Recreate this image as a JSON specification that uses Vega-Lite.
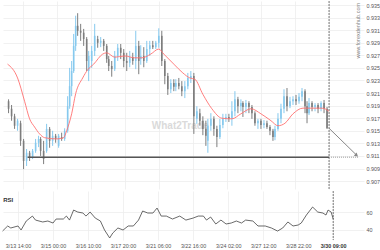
{
  "$schema": "https://vega.github.io/schema/vega-lite/v6.json",
  "padding": 0,
  "spacing": 0,
  "background": "white",
  "config": {
    "font": "Liberation Sans",
    "view": {"stroke": null},
    "axis": {"labelFont": "Liberation Sans", "labelFontSize": 5.4, "labelColor": "#555555", "gridColor": "#eeeeee", "gridWidth": 0.8, "domain": false, "ticks": false, "title": null, "labelOverlap": false}
  },
  "datasets": {
    "candles": [
      {"h": -14, "o": 0.9197, "c": 0.9185, "hi": 0.9200, "lo": 0.9178},
      {"h": -11, "o": 0.9185, "c": 0.9173, "hi": 0.9191, "lo": 0.9166},
      {"h": -8, "o": 0.9173, "c": 0.9158, "hi": 0.9177, "lo": 0.9153},
      {"h": -5, "o": 0.9158, "c": 0.9166, "hi": 0.9169, "lo": 0.9150},
      {"h": -2, "o": 0.9162, "c": 0.9134, "hi": 0.9166, "lo": 0.9126},
      {"h": 1, "o": 0.9134, "c": 0.9102, "hi": 0.9137, "lo": 0.9089},
      {"h": 4, "o": 0.9102, "c": 0.9115, "hi": 0.9121, "lo": 0.9094},
      {"h": 7, "o": 0.9115, "c": 0.9108, "hi": 0.9118, "lo": 0.9102},
      {"h": 10, "o": 0.9108, "c": 0.9118, "hi": 0.9121, "lo": 0.9105},
      {"h": 13, "o": 0.9118, "c": 0.9131, "hi": 0.9137, "lo": 0.9115},
      {"h": 16, "o": 0.9131, "c": 0.9137, "hi": 0.9142, "lo": 0.9124},
      {"h": 18, "o": 0.9137, "c": 0.9118, "hi": 0.9140, "lo": 0.9110},
      {"h": 21, "o": 0.9118, "c": 0.9105, "hi": 0.9134, "lo": 0.9097},
      {"h": 24, "o": 0.9118, "c": 0.9153, "hi": 0.9161, "lo": 0.9115},
      {"h": 27, "o": 0.9153, "c": 0.9134, "hi": 0.9156, "lo": 0.9123},
      {"h": 30, "o": 0.9134, "c": 0.9142, "hi": 0.9150, "lo": 0.9126},
      {"h": 33, "o": 0.9142, "c": 0.9137, "hi": 0.9145, "lo": 0.9131},
      {"h": 36, "o": 0.9126, "c": 0.9142, "hi": 0.9145, "lo": 0.9123},
      {"h": 39, "o": 0.9140, "c": 0.9137, "hi": 0.9147, "lo": 0.9134},
      {"h": 42, "o": 0.9137, "c": 0.9150, "hi": 0.9154, "lo": 0.9134},
      {"h": 45, "o": 0.9150, "c": 0.9189, "hi": 0.9205, "lo": 0.9147},
      {"h": 47, "o": 0.9189, "c": 0.9221, "hi": 0.9250, "lo": 0.9185},
      {"h": 49, "o": 0.9221, "c": 0.9245, "hi": 0.9261, "lo": 0.9205},
      {"h": 51, "o": 0.9245, "c": 0.9285, "hi": 0.9304, "lo": 0.9242},
      {"h": 53, "o": 0.9285, "c": 0.9317, "hi": 0.9333, "lo": 0.9277},
      {"h": 55, "o": 0.9317, "c": 0.9309, "hi": 0.9337, "lo": 0.9301},
      {"h": 58, "o": 0.9309, "c": 0.9306, "hi": 0.9320, "lo": 0.9293},
      {"h": 61, "o": 0.9306, "c": 0.9296, "hi": 0.9312, "lo": 0.9285},
      {"h": 64, "o": 0.9296, "c": 0.9261, "hi": 0.9299, "lo": 0.9245},
      {"h": 66, "o": 0.9245, "c": 0.9269, "hi": 0.9277, "lo": 0.9229},
      {"h": 69, "o": 0.9261, "c": 0.9277, "hi": 0.9285, "lo": 0.9250},
      {"h": 72, "o": 0.9277, "c": 0.9301, "hi": 0.9320, "lo": 0.9269},
      {"h": 75, "o": 0.9296, "c": 0.9290, "hi": 0.9301, "lo": 0.9282},
      {"h": 78, "o": 0.9290, "c": 0.9293, "hi": 0.9299, "lo": 0.9283},
      {"h": 81, "o": 0.9293, "c": 0.9285, "hi": 0.9296, "lo": 0.9277},
      {"h": 84, "o": 0.9285, "c": 0.9264, "hi": 0.9288, "lo": 0.9258},
      {"h": 86, "o": 0.9264, "c": 0.9253, "hi": 0.9269, "lo": 0.9245},
      {"h": 89, "o": 0.9253, "c": 0.9248, "hi": 0.9261, "lo": 0.9236},
      {"h": 92, "o": 0.9248, "c": 0.9269, "hi": 0.9277, "lo": 0.9245},
      {"h": 95, "o": 0.9269, "c": 0.9282, "hi": 0.9288, "lo": 0.9261},
      {"h": 98, "o": 0.9282, "c": 0.9274, "hi": 0.9288, "lo": 0.9264},
      {"h": 101, "o": 0.9274, "c": 0.9261, "hi": 0.9280, "lo": 0.9251},
      {"h": 104, "o": 0.9261, "c": 0.9258, "hi": 0.9274, "lo": 0.9245},
      {"h": 107, "o": 0.9258, "c": 0.9267, "hi": 0.9277, "lo": 0.9251},
      {"h": 110, "o": 0.9267, "c": 0.9261, "hi": 0.9274, "lo": 0.9255},
      {"h": 113, "o": 0.9261, "c": 0.9285, "hi": 0.9309, "lo": 0.9248},
      {"h": 116, "o": 0.9285, "c": 0.9261, "hi": 0.9293, "lo": 0.9240},
      {"h": 118, "o": 0.9264, "c": 0.9269, "hi": 0.9286, "lo": 0.9255},
      {"h": 121, "o": 0.9269, "c": 0.9261, "hi": 0.9283, "lo": 0.9251},
      {"h": 124, "o": 0.9261, "c": 0.9280, "hi": 0.9293, "lo": 0.9258},
      {"h": 127, "o": 0.9280, "c": 0.9286, "hi": 0.9293, "lo": 0.9269},
      {"h": 130, "o": 0.9286, "c": 0.9283, "hi": 0.9293, "lo": 0.9280},
      {"h": 133, "o": 0.9283, "c": 0.9290, "hi": 0.9293, "lo": 0.9280},
      {"h": 136, "o": 0.9290, "c": 0.9301, "hi": 0.9313, "lo": 0.9282},
      {"h": 139, "o": 0.9301, "c": 0.9261, "hi": 0.9309, "lo": 0.9253},
      {"h": 142, "o": 0.9261, "c": 0.9237, "hi": 0.9264, "lo": 0.9224},
      {"h": 145, "o": 0.9237, "c": 0.9216, "hi": 0.9242, "lo": 0.9207},
      {"h": 148, "o": 0.9216, "c": 0.9226, "hi": 0.9232, "lo": 0.9210},
      {"h": 151, "o": 0.9226, "c": 0.9220, "hi": 0.9232, "lo": 0.9213},
      {"h": 153, "o": 0.9220, "c": 0.9226, "hi": 0.9232, "lo": 0.9213},
      {"h": 156, "o": 0.9226, "c": 0.9221, "hi": 0.9234, "lo": 0.9216},
      {"h": 159, "o": 0.9221, "c": 0.9213, "hi": 0.9229, "lo": 0.9205},
      {"h": 162, "o": 0.9213, "c": 0.9221, "hi": 0.9229, "lo": 0.9202},
      {"h": 165, "o": 0.9221, "c": 0.9234, "hi": 0.9242, "lo": 0.9216},
      {"h": 168, "o": 0.9234, "c": 0.9237, "hi": 0.9245, "lo": 0.9226},
      {"h": 171, "o": 0.9237, "c": 0.9173, "hi": 0.9242, "lo": 0.9145},
      {"h": 174, "o": 0.9169, "c": 0.9181, "hi": 0.9189, "lo": 0.9161},
      {"h": 177, "o": 0.9178, "c": 0.9166, "hi": 0.9185, "lo": 0.9158},
      {"h": 180, "o": 0.9166, "c": 0.9153, "hi": 0.9173, "lo": 0.9143},
      {"h": 183, "o": 0.9153, "c": 0.9142, "hi": 0.9166, "lo": 0.9126},
      {"h": 185, "o": 0.9134, "c": 0.9158, "hi": 0.9169, "lo": 0.9115},
      {"h": 188, "o": 0.9158, "c": 0.9169, "hi": 0.9178, "lo": 0.9150},
      {"h": 191, "o": 0.9169, "c": 0.9153, "hi": 0.9173, "lo": 0.9142},
      {"h": 194, "o": 0.9153, "c": 0.9140, "hi": 0.9158, "lo": 0.9124},
      {"h": 197, "o": 0.9140, "c": 0.9159, "hi": 0.9169, "lo": 0.9137},
      {"h": 200, "o": 0.9159, "c": 0.9169, "hi": 0.9177, "lo": 0.9154},
      {"h": 203, "o": 0.9169, "c": 0.9172, "hi": 0.9177, "lo": 0.9164},
      {"h": 206, "o": 0.9172, "c": 0.9169, "hi": 0.9177, "lo": 0.9164},
      {"h": 209, "o": 0.9169, "c": 0.9181, "hi": 0.9197, "lo": 0.9158},
      {"h": 212, "o": 0.9181, "c": 0.9200, "hi": 0.9213, "lo": 0.9173},
      {"h": 215, "o": 0.9200, "c": 0.9189, "hi": 0.9204, "lo": 0.9178},
      {"h": 218, "o": 0.9189, "c": 0.9194, "hi": 0.9200, "lo": 0.9181},
      {"h": 220, "o": 0.9194, "c": 0.9188, "hi": 0.9197, "lo": 0.9172},
      {"h": 223, "o": 0.9188, "c": 0.9194, "hi": 0.9199, "lo": 0.9178},
      {"h": 226, "o": 0.9194, "c": 0.9188, "hi": 0.9197, "lo": 0.9178},
      {"h": 229, "o": 0.9188, "c": 0.9178, "hi": 0.9191, "lo": 0.9169},
      {"h": 232, "o": 0.9178, "c": 0.9162, "hi": 0.9181, "lo": 0.9158},
      {"h": 235, "o": 0.9162, "c": 0.9166, "hi": 0.9169, "lo": 0.9153},
      {"h": 238, "o": 0.9166, "c": 0.9159, "hi": 0.9169, "lo": 0.9153},
      {"h": 241, "o": 0.9159, "c": 0.9162, "hi": 0.9167, "lo": 0.9154},
      {"h": 244, "o": 0.9162, "c": 0.9156, "hi": 0.9166, "lo": 0.9153},
      {"h": 247, "o": 0.9156, "c": 0.9150, "hi": 0.9159, "lo": 0.9143},
      {"h": 250, "o": 0.9150, "c": 0.9140, "hi": 0.9153, "lo": 0.9134},
      {"h": 252, "o": 0.9140, "c": 0.9153, "hi": 0.9158, "lo": 0.9135},
      {"h": 255, "o": 0.9153, "c": 0.9169, "hi": 0.9178, "lo": 0.9150},
      {"h": 258, "o": 0.9169, "c": 0.9185, "hi": 0.9193, "lo": 0.9162},
      {"h": 261, "o": 0.9185, "c": 0.9205, "hi": 0.9216, "lo": 0.9178},
      {"h": 264, "o": 0.9205, "c": 0.9189, "hi": 0.9218, "lo": 0.9181},
      {"h": 267, "o": 0.9189, "c": 0.9197, "hi": 0.9204, "lo": 0.9186},
      {"h": 270, "o": 0.9197, "c": 0.9200, "hi": 0.9205, "lo": 0.9191},
      {"h": 273, "o": 0.9200, "c": 0.9197, "hi": 0.9207, "lo": 0.9191},
      {"h": 276, "o": 0.9197, "c": 0.9204, "hi": 0.9210, "lo": 0.9193},
      {"h": 279, "o": 0.9204, "c": 0.9213, "hi": 0.9218, "lo": 0.9197},
      {"h": 282, "o": 0.9213, "c": 0.9189, "hi": 0.9216, "lo": 0.9178},
      {"h": 284, "o": 0.9189, "c": 0.9178, "hi": 0.9197, "lo": 0.9162},
      {"h": 286, "o": 0.9178, "c": 0.9194, "hi": 0.9202, "lo": 0.9175},
      {"h": 289, "o": 0.9194, "c": 0.9188, "hi": 0.9197, "lo": 0.9181},
      {"h": 292, "o": 0.9188, "c": 0.9191, "hi": 0.9194, "lo": 0.9181},
      {"h": 295, "o": 0.9191, "c": 0.9185, "hi": 0.9194, "lo": 0.9178},
      {"h": 298, "o": 0.9185, "c": 0.9194, "hi": 0.9197, "lo": 0.9181},
      {"h": 301, "o": 0.9194, "c": 0.9185, "hi": 0.9199, "lo": 0.9178},
      {"h": 304, "o": 0.9185, "c": 0.9154, "hi": 0.9188, "lo": 0.9153}
    ],
    "ma": [
      {"h": -15, "p": 0.9256}, {"h": -5, "p": 0.9234}, {"h": 2, "p": 0.9197}, {"h": 7, "p": 0.9169},
      {"h": 12, "p": 0.9156}, {"h": 17, "p": 0.9145}, {"h": 22, "p": 0.9139}, {"h": 34, "p": 0.9137},
      {"h": 41, "p": 0.9139}, {"h": 44, "p": 0.9150}, {"h": 49, "p": 0.9177}, {"h": 53, "p": 0.9209},
      {"h": 60, "p": 0.9234}, {"h": 65, "p": 0.9247}, {"h": 71, "p": 0.9256}, {"h": 80, "p": 0.9272},
      {"h": 84, "p": 0.9274}, {"h": 92, "p": 0.9267}, {"h": 102, "p": 0.9269}, {"h": 112, "p": 0.9266},
      {"h": 119, "p": 0.9266}, {"h": 128, "p": 0.9272}, {"h": 136, "p": 0.9280}, {"h": 141, "p": 0.9272},
      {"h": 151, "p": 0.9256}, {"h": 160, "p": 0.9242}, {"h": 167, "p": 0.9234}, {"h": 172, "p": 0.9232},
      {"h": 180, "p": 0.9208}, {"h": 189, "p": 0.9185}, {"h": 199, "p": 0.9170}, {"h": 209, "p": 0.9169},
      {"h": 218, "p": 0.9177}, {"h": 228, "p": 0.9185}, {"h": 238, "p": 0.9177}, {"h": 248, "p": 0.9166},
      {"h": 255, "p": 0.9158}, {"h": 262, "p": 0.9162}, {"h": 270, "p": 0.9177}, {"h": 280, "p": 0.9186},
      {"h": 289, "p": 0.9186}, {"h": 299, "p": 0.9186}, {"h": 306, "p": 0.9181}
    ],
    "rsi": [
      {"h": -15, "v": 38.5}, {"h": -10, "v": 44.3}, {"h": -7, "v": 42.0}, {"h": 0, "v": 44.3},
      {"h": 3, "v": 39.7}, {"h": 8, "v": 50.0}, {"h": 14, "v": 55.7}, {"h": 17, "v": 51.1},
      {"h": 24, "v": 48.9}, {"h": 29, "v": 50.0}, {"h": 34, "v": 47.7}, {"h": 37, "v": 52.3},
      {"h": 44, "v": 52.3}, {"h": 47, "v": 55.7}, {"h": 50, "v": 51.1}, {"h": 54, "v": 62.6},
      {"h": 58, "v": 60.3}, {"h": 63, "v": 59.2}, {"h": 66, "v": 55.7}, {"h": 70, "v": 60.3},
      {"h": 75, "v": 53.4}, {"h": 80, "v": 50.0}, {"h": 84, "v": 39.7}, {"h": 89, "v": 30.5},
      {"h": 92, "v": 36.2}, {"h": 97, "v": 42.0}, {"h": 102, "v": 39.7}, {"h": 107, "v": 44.3},
      {"h": 112, "v": 44.3}, {"h": 117, "v": 51.1}, {"h": 121, "v": 61.5}, {"h": 126, "v": 59.2},
      {"h": 131, "v": 59.2}, {"h": 135, "v": 64.9}, {"h": 139, "v": 55.7}, {"h": 144, "v": 55.7},
      {"h": 150, "v": 52.3}, {"h": 157, "v": 55.7}, {"h": 163, "v": 51.1}, {"h": 170, "v": 53.4},
      {"h": 175, "v": 55.7}, {"h": 180, "v": 55.7}, {"h": 183, "v": 51.1}, {"h": 187, "v": 54.6},
      {"h": 192, "v": 46.6}, {"h": 197, "v": 51.1}, {"h": 202, "v": 46.6}, {"h": 207, "v": 47.7},
      {"h": 212, "v": 50.0}, {"h": 217, "v": 47.7}, {"h": 221, "v": 51.1}, {"h": 228, "v": 50.0},
      {"h": 233, "v": 44.3}, {"h": 240, "v": 44.3}, {"h": 246, "v": 42.0}, {"h": 252, "v": 38.5},
      {"h": 257, "v": 42.0}, {"h": 262, "v": 48.9}, {"h": 267, "v": 44.3}, {"h": 272, "v": 45.4},
      {"h": 275, "v": 47.7}, {"h": 280, "v": 56.9}, {"h": 286, "v": 66.1}, {"h": 291, "v": 60.3},
      {"h": 296, "v": 59.2}, {"h": 299, "v": 56.9}, {"h": 301, "v": 62.6}, {"h": 304, "v": 60.3},
      {"h": 306, "v": 52.3}
    ]
  },
  "vconcat": [
    {
      "width": 361,
      "height": 188,
      "encoding": {
        "y": {"type": "quantitative",
          "scale": {"domain": [0.90574, 0.93564], "nice": false, "zero": false},
          "axis": {"orient": "right", "values": [0.907, 0.909, 0.911, 0.913, 0.915, 0.917, 0.919, 0.921, 0.923, 0.925, 0.927, 0.929, 0.931, 0.933, 0.935], "format": ".3f", "grid": true, "labelPadding": 2, "labelOverlap": false, "labelBound": false}}
      },
      "layer": [
        {
          "data": {"values": [{"h": 306}]},
          "mark": {"type": "rule", "color": "#555555", "strokeWidth": 0.8, "strokeDash": [2, 1]},
          "encoding": {
            "x": {"field": "h", "type": "quantitative",
              "scale": {"domain": [-14.56, 335.9], "nice": false, "zero": false},
              "axis": {"values": [0, 34, 68, 102, 136, 170, 204, 238, 272, 306], "labels": false, "grid": true}},
            "y": null
          }
        },
        {
          "data": {"values": [{"h": 129, "p": 0.9158, "t": "What2Trade"}]},
          "mark": {"type": "text", "align": "left", "baseline": "middle", "fontSize": 10, "fontWeight": "bold", "color": "#dadada"},
          "encoding": {
            "x": {"field": "h", "type": "quantitative"},
            "y": {"field": "p", "type": "quantitative"},
            "text": {"field": "t"}
          }
        },
        {
          "data": {"values": [{"h": 334.5, "p": 0.9309, "t": "www.forexdenhub.com"}]},
          "mark": {"type": "text", "align": "center", "baseline": "middle", "angle": 270, "fontSize": 5.5, "color": "#888888"},
          "encoding": {
            "x": {"field": "h", "type": "quantitative"},
            "y": {"field": "p", "type": "quantitative"},
            "text": {"field": "t"}
          }
        },
        {
          "data": {"name": "candles"},
          "mark": {"type": "rule", "strokeWidth": 1},
          "encoding": {
            "x": {"field": "h", "type": "quantitative"},
            "y": {"field": "lo", "type": "quantitative"},
            "y2": {"field": "hi"},
            "color": {"condition": {"test": "datum.c > datum.o", "value": "#86c9ee"}, "value": "#7d7d7d"}
          }
        },
        {
          "data": {"name": "candles"},
          "mark": {"type": "bar", "size": 1.6},
          "encoding": {
            "x": {"field": "h", "type": "quantitative"},
            "y": {"field": "o", "type": "quantitative"},
            "y2": {"field": "c"},
            "color": {"condition": {"test": "datum.c > datum.o", "value": "#86c9ee"}, "value": "#7d7d7d"}
          }
        },
        {
          "data": {"name": "ma"},
          "mark": {"type": "line", "color": "#ff7070", "strokeWidth": 0.9, "interpolate": "monotone"},
          "encoding": {
            "x": {"field": "h", "type": "quantitative"},
            "y": {"field": "p", "type": "quantitative"}
          }
        },
        {
          "data": {"values": [{"h": 5, "p": 0.9108}, {"h": 306, "p": 0.9108}]},
          "mark": {"type": "line", "color": "#555555", "strokeWidth": 1.4},
          "encoding": {
            "x": {"field": "h", "type": "quantitative"},
            "y": {"field": "p", "type": "quantitative"}
          }
        },
        {
          "data": {"values": [{"h": 306, "p": 0.9108}, {"h": 335, "p": 0.9108}]},
          "mark": {"type": "line", "color": "#999999", "strokeWidth": 1, "strokeDash": [1, 1]},
          "encoding": {
            "x": {"field": "h", "type": "quantitative"},
            "y": {"field": "p", "type": "quantitative"}
          }
        },
        {
          "data": {"values": [{"h": 306, "p": 0.9154}, {"h": 333, "p": 0.9112}]},
          "mark": {"type": "line", "color": "#888888", "strokeWidth": 1},
          "encoding": {
            "x": {"field": "h", "type": "quantitative"},
            "y": {"field": "p", "type": "quantitative"}
          }
        },
        {
          "data": {"values": [{"h": 333.5, "p": 0.9111}]},
          "mark": {"type": "point", "shape": "triangle-right", "filled": true, "size": 18, "angle": 42, "color": "#888888", "opacity": 1},
          "encoding": {
            "x": {"field": "h", "type": "quantitative"},
            "y": {"field": "p", "type": "quantitative"}
          }
        }
      ]
    },
    {
      "width": 361,
      "height": 49,
      "layer": [
        {
          "data": {"values": [{"h": 306}]},
          "mark": {"type": "rule", "color": "#555555", "strokeWidth": 0.8, "strokeDash": [2, 1]},
          "encoding": {
            "x": {"field": "h", "type": "quantitative",
              "scale": {"domain": [-14.56, 335.9], "nice": false, "zero": false},
              "axis": {"values": [0, 34, 68, 102, 136, 170, 204, 238, 272, 306], "grid": true, "labelPadding": 3,
                "labelExpr": "['3/13 14:00','3/15 00:00','3/16 10:00','3/17 20:00','3/21 06:00','3/22 16:00','3/24 02:00','3/27 12:00','3/28 22:00','3/30 09:00'][round(datum.value/34)]",
                "labelFontWeight": {"condition": {"test": "datum.value == 306", "value": "bold"}, "value": "normal"},
                "labelColor": {"condition": {"test": "datum.value == 306", "value": "#333333"}, "value": "#555555"}}}
          }
        },
        {
          "data": {"name": "rsi"},
          "mark": {"type": "line", "color": "#444444", "strokeWidth": 0.8},
          "encoding": {
            "x": {"field": "h", "type": "quantitative"},
            "y": {"field": "v", "type": "quantitative",
              "scale": {"domain": [28.2, 84.5], "nice": false, "zero": false},
              "axis": {"orient": "right", "values": [40, 60], "grid": true, "labelPadding": 2}}
          }
        },
        {
          "data": {"values": [{"h": -14.3, "v": 74, "t": "RSI"}]},
          "mark": {"type": "text", "align": "left", "baseline": "middle", "fontSize": 6, "fontWeight": "bold", "color": "#333333"},
          "encoding": {
            "x": {"field": "h", "type": "quantitative"},
            "y": {"field": "v", "type": "quantitative"},
            "text": {"field": "t"}
          }
        }
      ]
    }
  ]
}
